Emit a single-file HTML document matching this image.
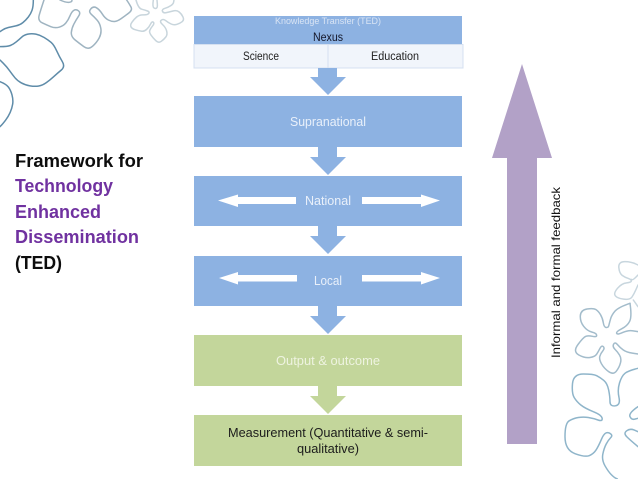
<!DOCTYPE html>
<html>
<head>
<meta charset="utf-8">
<style>
html,body{margin:0;padding:0;background:#fff;width:638px;height:479px;overflow:hidden}
svg{display:block}
text{font-family:"Liberation Sans",sans-serif}
</style>
</head>
<body>
<svg xmlns="http://www.w3.org/2000/svg" width="638" height="479" viewBox="0 0 638 479">
<defs>
<filter id="b" x="-5%" y="-5%" width="110%" height="110%"><feGaussianBlur stdDeviation="1"/></filter>
<filter id="t" x="-5%" y="-30%" width="110%" height="160%"><feGaussianBlur stdDeviation="0.25"/></filter>
</defs>
<rect width="638" height="479" fill="#fff"/>

<!-- top-left flowers -->
<g transform="scale(0.3333)" fill="none" stroke-linejoin="round" stroke-linecap="round" filter="url(#b)">
<g stroke="#5f8ca9" stroke-width="4.500">
<polyline class="s" points="0,140 22,140 40,133 58,118 72,105 95,100 120,105 145,120 162,135 178,170 196,200 172,220 150,240 128,256 105,260 75,255 52,242 38,225 20,200 0,180"/>
<polyline class="s" points="100,0 100,20 92,42 78,60 60,75 35,80 15,85 0,95"/>
<polyline class="s" points="0,245 18,252 32,270 40,300 36,325 25,350 8,372 0,380"/>
</g>
<g stroke="#9fb4c1" stroke-width="4.500">
<polyline class="s" points="132,0 122,30 113,62 140,75 165,85 190,78 205,60 215,35 228,27 243,38 228,60 215,85 213,110 238,130 265,150 290,128 305,100 300,70 282,50 265,35 280,18 298,28 315,55 335,65 352,64 375,48 398,30 388,12 380,0"/>
<polyline class="s" points="180,0 198,8 215,6 216,0"/>
</g>
<g stroke="#c8d5dc" stroke-width="4.500">
<polyline class="s" points="408,0 415,25 435,30 450,36 442,45 418,44 402,58 390,75 396,86 415,92 432,95 447,82 456,63 464,70 452,85 447,97 460,115 476,130 492,118 503,104 497,82 478,65 490,56 505,68 522,76 540,70 553,60 545,42 530,30 508,36 490,40 485,28 505,22 520,12 522,0"/>
<polyline class="s" points="460,0 457,20 466,27 473,22 471,0"/>
</g>
</g>

<!-- bottom-right flowers -->
<g transform="translate(530,250) scale(0.3333)" fill="none" stroke-linejoin="round" stroke-linecap="round" filter="url(#b)">
<g stroke="#c8d6de" stroke-width="4.500">
<polyline class="s" points="324,45 305,35 265,35 268,70 285,82 303,88 305,97 275,100 250,130 262,145 300,150 312,132 324,105"/>
<polyline class="s" points="324,75 310,90 303,88"/>
<polyline class="s" points="310,150 324,170"/>
</g>
<g stroke="#a3bccb" stroke-width="4.500">
<polyline class="s" points="300,160 265,172 245,195 238,220 235,233 222,232 218,205 205,183 190,174 152,180 150,215 172,243 200,250 200,262 175,256 160,262 128,305 165,325 195,320 205,305 215,285 225,295 212,310 207,328 222,355 250,375 268,352 275,325 262,305 247,290 255,275 270,293 290,307 324,312"/>
<polyline class="s" points="300,160 306,200 292,228 258,245 262,255 295,240 324,245"/>
</g>
<g stroke="#8fb5ca" stroke-width="4.500">
<polyline class="s" points="324,355 295,362 275,378 262,420 272,465 240,470 240,440 232,400 210,382 190,372 130,372 125,430 140,455 165,475 215,495 218,515 190,505 160,500 130,505 105,520 105,600 165,622 190,612 205,590 225,543 250,555 235,570 222,595 215,630 235,665 252,682 262,687"/>
<polyline class="s" points="324,470 295,490 305,510 324,505"/>
<polyline class="s" points="324,590 300,570 280,550 300,535 324,545"/>
</g>
</g>

<!-- left heading -->
<g font-size="18.500" font-weight="bold" filter="url(#t)">
<text x="15" y="167" fill="#111" textLength="128" lengthAdjust="spacingAndGlyphs">Framework for</text>
<text x="15" y="192" fill="#7030a0" textLength="98" lengthAdjust="spacingAndGlyphs">Technology</text>
<text x="15" y="218" fill="#7030a0" textLength="86" lengthAdjust="spacingAndGlyphs">Enhanced</text>
<text x="15" y="243" fill="#7030a0" textLength="124" lengthAdjust="spacingAndGlyphs">Dissemination</text>
<text x="15" y="269" fill="#111" textLength="47" lengthAdjust="spacingAndGlyphs">(TED)</text>
</g>

<!-- centre column -->
<rect x="194" y="16" width="268" height="28" fill="#8db2e2"/>
<rect x="194" y="44.500" width="134" height="23.500" fill="#f1f5fb" stroke="#d5e0f0" stroke-width="1"/>
<rect x="328" y="44.500" width="135" height="23.500" fill="#f1f5fb" stroke="#d5e0f0" stroke-width="1"/>

<g fill="#8db2e2">
<polygon points="318,68 337,68 337,77 346,77 328,95 310,77 318,77"/>
<rect x="194" y="96" width="268" height="51"/>
<polygon points="318,147 337,147 337,157 346,157 328,175 310,157 318,157"/>
<rect x="194" y="176" width="268" height="50"/>
<polygon points="318,226 337,226 337,236 346,236 328,254 310,236 318,236"/>
<rect x="194" y="256" width="268" height="50"/>
<polygon points="318,306 337,306 337,316 346,316 328,334 310,316 318,316"/>
</g>
<g fill="#c3d69b">
<rect x="194" y="335" width="268" height="51"/>
<polygon points="318,386 337,386 337,396 346,396 328,414 310,396 318,396"/>
<rect x="194" y="415" width="268" height="51"/>
</g>

<!-- white double arrows -->
<g fill="#fff">
<polygon points="218,200.500 238,194.500 238,197 296,197 296,204 238,204 238,207"/>
<polygon points="440,200.500 421,194.500 421,197 362,197 362,204 421,204 421,207"/>
<polygon points="219,278 238,272 238,275 297,275 297,281.500 238,281.500 238,284.500"/>
<polygon points="440,278 421,272 421,275 362,275 362,281.500 421,281.500 421,284.500"/>
</g>

<!-- purple arrow -->
<polygon points="522,64 552,158 537,158 537,444 507,444 507,158 492,158" fill="#b2a1c7"/>

<!-- labels -->
<g text-anchor="start" filter="url(#t)">
<text x="275" y="24" font-size="9.500" fill="#d9e4f4" textLength="106" lengthAdjust="spacingAndGlyphs">Knowledge Transfer (TED)</text>
<text x="313" y="41" font-size="11.500" fill="#14182a" textLength="30" lengthAdjust="spacingAndGlyphs">Nexus</text>
<text x="243" y="60" font-size="11.500" fill="#222" textLength="36" lengthAdjust="spacingAndGlyphs">Science</text>
<text x="371" y="60" font-size="11.500" fill="#222" textLength="48" lengthAdjust="spacingAndGlyphs">Education</text>
<text x="290" y="126" font-size="13" fill="#e9f0fa" textLength="76" lengthAdjust="spacingAndGlyphs">Supranational</text>
<text x="305" y="205" font-size="12.500" fill="#e9f0fa" textLength="46" lengthAdjust="spacingAndGlyphs">National</text>
<text x="314" y="285" font-size="12.500" fill="#e9f0fa" textLength="28" lengthAdjust="spacingAndGlyphs">Local</text>
<text x="276" y="365" font-size="13" fill="#eef3e0" textLength="104" lengthAdjust="spacingAndGlyphs">Output &amp; outcome</text>
<text x="228" y="437" font-size="12.500" fill="#1c1c1c" textLength="200" lengthAdjust="spacingAndGlyphs">Measurement (Quantitative &amp; semi-</text>
<text x="297" y="453" font-size="12.500" fill="#1c1c1c" textLength="62" lengthAdjust="spacingAndGlyphs">qualitative)</text>
<text transform="translate(560,358) rotate(-90)" font-size="12" fill="#111" textLength="171" lengthAdjust="spacingAndGlyphs">Informal and formal feedback</text>
</g>
</svg>
<script>
document.querySelectorAll('polyline.s').forEach(function(l){
  var p=l.getAttribute('points').trim().split(/\s+/).map(function(a){return a.split(',').map(Number)});
  var d='M'+p[0][0]+' '+p[0][1];
  for(var i=1;i<p.length-1;i++){
    var mx=(p[i][0]+p[i+1][0])/2,my=(p[i][1]+p[i+1][1])/2;
    d+=' Q'+p[i][0]+' '+p[i][1]+' '+mx+' '+my;
  }
  d+=' L'+p[p.length-1][0]+' '+p[p.length-1][1];
  var e=document.createElementNS('http://www.w3.org/2000/svg','path');
  e.setAttribute('d',d);
  l.parentNode.replaceChild(e,l);
});
</script>
</body>
</html>
